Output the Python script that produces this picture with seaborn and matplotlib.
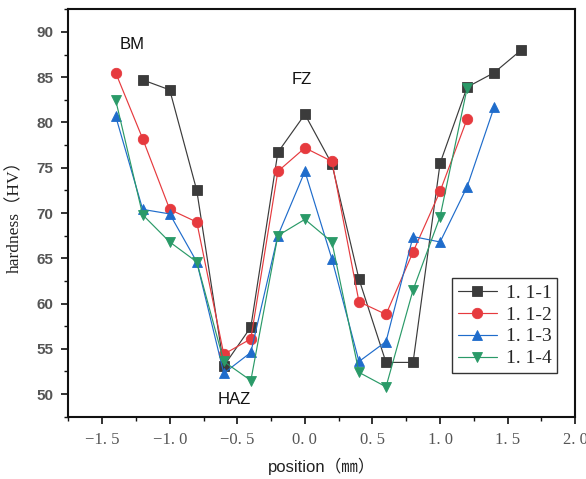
import matplotlib
matplotlib.use("Agg")
import matplotlib.pyplot as plt
from matplotlib.ticker import MultipleLocator
import numpy as np
import pandas as pd
import seaborn as sns

# Micro-hardness profiles across the weld (position in mm, hardness in HV)
pos_1 = [-1.2, -1.0, -0.8, -0.6, -0.4, -0.2, 0.0, 0.2, 0.4, 0.6, 0.8, 1.0, 1.2, 1.4, 1.6]
hv_1 = [84.7, 83.6, 72.5, 53.1, 57.4, 76.7, 80.9, 75.4, 62.7, 53.5, 53.5, 75.5, 83.9, 85.5, 88.0]

pos_2 = [-1.4, -1.2, -1.0, -0.8, -0.6, -0.4, -0.2, 0.0, 0.2, 0.4, 0.6, 0.8, 1.0, 1.2]
hv_2 = [85.5, 78.2, 70.4, 69.0, 54.4, 56.1, 74.6, 77.2, 75.7, 60.2, 58.8, 65.7, 72.4, 80.4]

pos_3 = [-1.4, -1.2, -1.0, -0.8, -0.6, -0.4, -0.2, 0.0, 0.2, 0.4, 0.6, 0.8, 1.0, 1.2, 1.4]
hv_3 = [80.7, 70.4, 69.9, 64.6, 52.3, 54.6, 67.5, 74.6, 64.9, 53.6, 55.8, 67.4, 66.8, 72.9, 81.7]

pos_4 = [-1.4, -1.2, -1.0, -0.8, -0.6, -0.4, -0.2, 0.0, 0.2, 0.4, 0.6, 0.8, 1.0, 1.2]
hv_4 = [82.5, 69.8, 66.8, 64.6, 53.6, 51.5, 67.5, 69.3, 66.8, 52.4, 50.8, 61.5, 69.6, 83.8]

series_names = ["1. 1-1", "1. 1-2", "1. 1-3", "1. 1-4"]

x_ticks = [-1.5, -1.0, -0.5, 0.0, 0.5, 1.0, 1.5, 2.0]
x_tick_labels = ["\u22121. 5", "\u22121. 0", "\u22120. 5", "0. 0", "0. 5", "1. 0", "1. 5", "2. 0"]
y_ticks = [50, 55, 60, 65, 70, 75, 80, 85, 90]

zone_labels = ["BM", "FZ", "HAZ"]
zone_x = [-1.275, -0.02, -0.52]
zone_y = [88.6, 84.7, 49.4]

sns.set_style("ticks")
plt.rcParams["font.family"] = ["Liberation Sans", "Noto Sans CJK SC"]

colors = ["#3b3b3b", "#e63a3e", "#1f6ccb", "#2a9a68"]
markers = ["s", "o", "^", "v"]
msizes = [6.5, 7.5, 7.5, 7.5]

frames = []
for name, xs, ys in zip(series_names, [pos_1, pos_2, pos_3, pos_4], [hv_1, hv_2, hv_3, hv_4]):
    frames.append(pd.DataFrame({"position": xs, "hardness": ys, "sample": name}))
df = pd.concat(frames, ignore_index=True)

fig = plt.figure(figsize=(5.86, 4.79), dpi=100)
ax = fig.add_axes([0.1166, 0.130, 0.8651, 0.8506])

for name, c, m, ms in zip(series_names, colors, markers, msizes):
    sub = df[df["sample"] == name]
    sns.lineplot(data=sub, x="position", y="hardness", ax=ax, color=c,
                 marker=m, markersize=ms, markeredgecolor=c, markeredgewidth=0.6,
                 linewidth=0.85, label=name, sort=False, estimator=None)

ax.set_xlim(-1.75, 2.0)
ax.set_ylim(47.5, 92.5)
ax.set_xticks(x_ticks)
ax.set_xticklabels(x_tick_labels, family=["Liberation Serif"], fontsize=12, color="#555555")
ax.xaxis.set_minor_locator(MultipleLocator(0.25))
ax.set_yticks(y_ticks)
ax.yaxis.set_minor_locator(MultipleLocator(2.5))
for lbl in ax.get_yticklabels():
    lbl.set_fontsize(11)
    lbl.set_color("#555555")
    lbl.set_fontweight("bold")

ax.tick_params(which="major", direction="out", length=5, width=1.2, color="#111111", pad=6)
ax.tick_params(which="minor", direction="out", length=3, width=1.0, color="#111111")
for sp in ax.spines.values():
    sp.set_visible(True)
    sp.set_linewidth(1.5)
    sp.set_color("#111111")

ax.set_xlabel("position\uff08\u339c\uff09", fontsize=12, color="#222222",
              family=["Liberation Sans", "Noto Sans CJK SC"], labelpad=7)
ax.set_ylabel("hardness\uff08HV\uff09", fontsize=12.5, color="#222222",
              family=["Liberation Serif", "Noto Sans CJK SC"], labelpad=9)

for t, x, y in zip(zone_labels, zone_x, zone_y):
    ax.text(x, y, t, fontsize=12, ha="center", va="center", color="#111111")

leg = ax.legend(loc="upper left", bbox_to_anchor=(0.757, 0.340), frameon=True,
                fancybox=False, edgecolor="#333333", framealpha=1,
                prop={"family": "Liberation Serif", "size": 14},
                handlelength=2.0, handletextpad=0.45, labelspacing=0.22,
                borderpad=0.3, borderaxespad=0)
leg.get_frame().set_linewidth(1.0)

fig.savefig("out.png", dpi=100)
